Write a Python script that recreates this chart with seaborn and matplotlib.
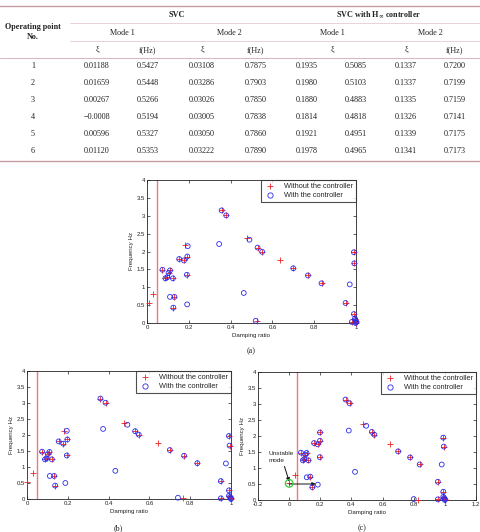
import matplotlib
matplotlib.use("Agg")
import matplotlib.pyplot as plt
from matplotlib.lines import Line2D
import pandas as pd
import seaborn as sns

sns.set_style("ticks")
plt.rcParams['font.family'] = ['Liberation Sans', 'DejaVu Sans']

# ---- table values ----
op_points = ["1", "2", "3", "4", "5", "6"]
svc_m1_xi = ["0.01188", "0.01659", "0.00267", "\u22120.0008", "0.00596", "0.01120"]
svc_m1_f = ["0.5427", "0.5448", "0.5266", "0.5194", "0.5327", "0.5353"]
svc_m2_xi = ["0.03108", "0.03286", "0.03026", "0.03005", "0.03050", "0.03222"]
svc_m2_f = ["0.7875", "0.7903", "0.7850", "0.7838", "0.7860", "0.7890"]
hinf_m1_xi = ["0.1935", "0.1980", "0.1880", "0.1814", "0.1921", "0.1978"]
hinf_m1_f = ["0.5085", "0.5103", "0.4883", "0.4818", "0.4951", "0.4965"]
hinf_m2_xi = ["0.1337", "0.1337", "0.1335", "0.1326", "0.1339", "0.1341"]
hinf_m2_f = ["0.7200", "0.7199", "0.7159", "0.7141", "0.7175", "0.7173"]

# ---- panel (a) ----
a_both_x = [0.074, 0.088, 0.097, 0.103, 0.110, 0.124, 0.131, 0.126, 0.154, 0.177, 0.193, 0.191,
            0.357, 0.379, 0.529, 0.551, 0.70, 0.77, 0.835, 0.95, 0.99, 0.992, 0.99, 0.98,
            0.995, 0.997, 1.0, 1.0, 0.998]
a_both_y = [1.49, 1.25, 1.28, 1.40, 1.47, 1.25, 0.73, 0.43, 1.79, 1.75, 1.86, 1.35,
            3.15, 3.01, 2.11, 1.99, 1.53, 1.33, 1.11, 0.56, 1.98, 1.67, 0.25, 0.03,
            0.12, 0.08, 0.05, 0.02, 0.0]
a_red_x = [0.01, 0.03, 0.18, 0.478, 0.638, 0.528]
a_red_y = [0.56, 0.80, 2.18, 2.37, 1.75, 0.05]
a_blue_x = [0.195, 0.11, 0.192, 0.345, 0.49, 0.463, 0.52, 0.97]
a_blue_y = [2.15, 0.73, 0.52, 2.21, 2.33, 0.84, 0.06, 1.08]

# ---- panel (b) ----
b_both_x = [0.074, 0.088, 0.096, 0.102, 0.110, 0.122, 0.133, 0.138, 0.155, 0.178, 0.198, 0.195,
            0.36, 0.385, 0.53, 0.548, 0.70, 0.77, 0.835, 0.95, 0.99, 0.993, 0.99, 0.95,
            0.99, 0.995, 1.0, 1.0]
b_both_y = [1.48, 1.24, 1.27, 1.40, 1.47, 1.24, 0.72, 0.42, 1.80, 1.73, 1.86, 1.36,
            3.14, 3.01, 2.12, 2.01, 1.53, 1.35, 1.12, 0.56, 1.97, 1.67, 0.27, 0.02,
            0.10, 0.06, 0.03, 0.0]
b_red_x = [0.0, 0.027, 0.183, 0.477, 0.64, 0.765]
b_red_y = [0.53, 0.80, 2.13, 2.38, 1.75, 0.03]
b_blue_x = [0.195, 0.112, 0.188, 0.373, 0.492, 0.433, 0.74, 0.975]
b_blue_y = [2.13, 0.72, 0.50, 2.19, 2.32, 0.88, 0.04, 1.11]

# ---- panel (c) ----
c_both_x = [0.076, 0.088, 0.098, 0.104, 0.112, 0.124, 0.135, 0.149, 0.16, 0.183, 0.198, 0.197,
            0.362, 0.388, 0.531, 0.547, 0.70, 0.777, 0.838, 0.955, 0.99, 0.993, 0.99, 0.955,
            0.99, 0.995, 1.0, 1.0]
c_both_y = [1.48, 1.24, 1.28, 1.42, 1.47, 1.24, 0.73, 0.40, 1.78, 1.74, 1.85, 1.34,
            3.14, 3.02, 2.13, 2.04, 1.52, 1.33, 1.11, 0.57, 1.95, 1.67, 0.26, 0.02,
            0.10, 0.06, 0.03, 0.0]
c_red_x = [0.0, 0.035, 0.195, 0.475, 0.645, 0.83]
c_red_y = [0.52, 0.79, 2.13, 2.37, 1.74, 0.01]
c_blue_x = [0.198, 0.113, 0.184, 0.383, 0.495, 0.423, 0.80, 0.98]
c_blue_y = [2.11, 0.71, 0.48, 2.17, 2.32, 0.88, 0.03, 1.11]
unstable_x = [0.0]
unstable_y = [0.52]

W, H = 480, 532
fig = plt.figure(figsize=(4.8, 5.32), dpi=100)

RED = "#ee2222"
BLUE = "#2b2bee"


def fx(px):
    return px / W


def fy(py):
    return 1 - py / H


def hline(y, x0, x1, color, lw):
    fig.add_artist(Line2D([fx(x0), fx(x1)], [fy(y), fy(y)], transform=fig.transFigure,
                          color=color, lw=lw))


def ttext(x, y, s, bold=False, size=5.9):
    fig.text(fx(x), fy(y), s, ha="center", va="center", fontsize=size,
             family=["Liberation Serif", "DejaVu Serif"],
             fontweight="bold" if bold else "normal", color="#222222")


# table rules
hline(6, 0, 480, "#c79aa5", 1.0)
hline(23, 70, 480, "#e6cbd1", 0.6)
hline(41, 70, 480, "#e6cbd1", 0.6)
hline(58, 0, 480, "#d9b5be", 0.7)
hline(161, 0, 480, "#c79aa5", 1.0)

# table headers
ttext(33, 27, "Operating point", bold=True)
ttext(33, 37, "No.", bold=True)
ttext(177, 15, "SVC", bold=True)
ttext(379, 15, "SVC with H$_{\\infty}$ controller", bold=True)
for x, s in [(122, "Mode 1"), (229, "Mode 2"), (332, "Mode 1"), (430, "Mode 2")]:
    ttext(x, 33, s)
for x, s in [(97, "\u03be"), (148, "f(Hz)"), (202, "\u03be"), (256, "f(Hz)"),
             (332, "\u03be"), (406, "\u03be"), (455, "f(Hz)")]:
    ttext(x, 50, s)

cols = [(33, op_points), (97, svc_m1_xi), (148, svc_m1_f), (202, svc_m2_xi), (256, svc_m2_f),
        (307, hinf_m1_xi), (356, hinf_m1_f), (406, hinf_m2_xi), (455, hinf_m2_f)]
row_y = [66, 83, 100, 117, 134, 151]
for x, vals in cols:
    for y, v in zip(row_y, vals):
        ttext(x, y, v)


def panel(rect, both_x, both_y, red_x, red_y, blue_x, blue_y, xlim, xticks, tag, tag_xy):
    ax = fig.add_axes(rect)
    red = pd.DataFrame({"x": both_x + red_x, "y": both_y + red_y})
    blue = pd.DataFrame({"x": both_x + blue_x, "y": both_y + blue_y})
    ax.axvline(0.05, color="#f07878", lw=1.0, zorder=1)
    sns.scatterplot(data=red, x="x", y="y", ax=ax, marker="+", color=RED,
                    s=14, linewidth=0.6, zorder=3, clip_on=False, legend=False)
    sns.scatterplot(data=blue, x="x", y="y", ax=ax, marker="o", color=BLUE,
                    facecolor="none", edgecolor=BLUE, s=12, linewidth=0.6,
                    zorder=4, clip_on=False, legend=False)
    ax.set_xlim(*xlim)
    ax.set_ylim(0, 4)
    ax.set_xticks(xticks)
    ax.set_xticklabels([("%g" % t) for t in xticks])
    ax.set_yticks([0, 0.5, 1, 1.5, 2, 2.5, 3, 3.5, 4])
    ax.set_yticklabels(["0", "0.5", "1", "1.5", "2", "2.5", "3", "3.5", "4"])
    ax.tick_params(direction="in", length=2, width=0.5, labelsize=4.3, pad=1.5,
                   top=True, right=True, colors="#222222")
    for sp in ax.spines.values():
        sp.set_linewidth(0.6)
        sp.set_color("#222222")
    ax.set_xlabel("Damping ratio", fontsize=4.4, labelpad=2, color="#222222")
    ax.set_ylabel("Frequency Hz", fontsize=4.4, labelpad=2, color="#222222")
    handles = [Line2D([], [], ls="none", marker="+", color=RED, markersize=4.5, mew=0.6),
               Line2D([], [], ls="none", marker="o", mfc="none", mec=BLUE,
                      markersize=3.8, mew=0.6)]
    leg = ax.legend(handles, ["Without the controller", "With the controller"],
                    loc="upper right", borderaxespad=0, fontsize=5.3, frameon=True,
                    fancybox=False, edgecolor="#222222", handletextpad=1.0,
                    borderpad=0.4, labelspacing=0.3, handlelength=1.8)
    leg.get_frame().set_linewidth(0.8)
    leg.set_zorder(10)
    fig.text(fx(tag_xy[0]), fy(tag_xy[1]), tag, ha="center", va="center", fontsize=5.9,
             family=["Liberation Serif", "DejaVu Serif"], color="#222222")
    return ax


panel([fx(147), fy(323), fx(356) - fx(147), fy(180) - fy(323)],
      a_both_x, a_both_y, a_red_x, a_red_y, a_blue_x, a_blue_y,
      (0, 1), [0, 0.2, 0.4, 0.6, 0.8, 1], "(a)", (251, 351))

panel([fx(27), fy(499), fx(231) - fx(27), fy(371) - fy(499)],
      b_both_x, b_both_y, b_red_x, b_red_y, b_blue_x, b_blue_y,
      (0, 1), [0, 0.2, 0.4, 0.6, 0.8, 1], "(b)", (118, 528))

axc = panel([fx(258), fy(500), fx(476) - fx(258), fy(372) - fy(500)],
            c_both_x, c_both_y, c_red_x, c_red_y, c_blue_x, c_blue_y,
            (-0.2, 1.2), [-0.2, 0, 0.2, 0.4, 0.6, 0.8, 1, 1.2], "(c)", (362, 528))
sns.scatterplot(x=unstable_x, y=unstable_y, ax=axc, marker="o", color="#33cc33",
                facecolor="none", edgecolor="#33cc33", s=30, linewidth=0.9, zorder=5,
                legend=False)
axc.annotate("", xy=(0.17, 0.5), xytext=(0.0, 0.5),
             arrowprops=dict(arrowstyle="-|>", color="#111111", lw=0.7,
                             mutation_scale=5, shrinkA=0, shrinkB=0))
axc.annotate("", xy=(0.0, 0.58), xytext=(-0.03, 1.05),
             arrowprops=dict(arrowstyle="-|>", color="#111111", lw=0.7,
                             mutation_scale=5, shrinkA=0, shrinkB=0))
axc.text(-0.13, 1.44, "Unstable", fontsize=4.6, ha="left", va="center", color="#222222")
axc.text(-0.13, 1.24, "mode", fontsize=4.6, ha="left", va="center", color="#222222")

fig.savefig("out.png", dpi=100)
